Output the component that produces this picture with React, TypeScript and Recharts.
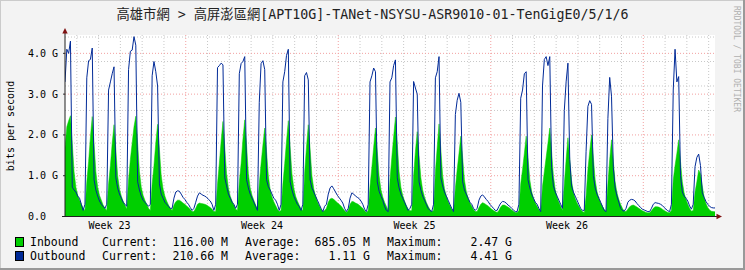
import React from 'react';
import { ComposedChart, Area, Line, XAxis, YAxis, CartesianGrid } from 'recharts';

// samples every 2 hours, values in Gbit/s, hour 0 = left edge of the graph
const STEP_HOURS = 2;

const inbound = [
  1.7, 2.2, 2.35, 2.47, 1.8, 1.1, 0.72, 0.52, 0.4, 0.3, 0.2, 0.15,
  0.85, 1.35, 1.95, 2.45, 1.8, 1.1, 0.72, 0.52, 0.4, 0.28, 0.2, 0.15,
  0.8, 1.25, 1.8, 2.25, 1.65, 1.0, 0.68, 0.5, 0.38, 0.28, 0.18, 0.9,
  1.4, 1.8, 2.2, 2.46, 1.8, 1.1, 0.72, 0.52, 0.4, 0.3, 0.2, 0.15,
  0.8, 1.25, 1.8, 2.26, 1.65, 1.0, 0.68, 0.5, 0.38, 0.28, 0.2, 0.15,
  0.28, 0.36, 0.4, 0.4, 0.37, 0.33, 0.3, 0.26, 0.22, 0.17, 0.12, 0.12,
  0.2, 0.3, 0.33, 0.32, 0.31, 0.3, 0.28, 0.25, 0.22, 0.18, 0.12, 0.12,
  0.8, 1.3, 1.85, 2.33, 1.7, 1.05, 0.7, 0.5, 0.38, 0.28, 0.18, 0.15,
  0.85, 1.3, 1.9, 2.37, 1.75, 1.05, 0.7, 0.52, 0.4, 0.28, 0.18, 0.8,
  1.3, 1.75, 2.17, 1.6, 1.0, 0.66, 0.48, 0.36, 0.27, 0.18, 0.12, 0.15,
  0.8, 1.3, 1.85, 2.35, 1.7, 1.05, 0.7, 0.5, 0.38, 0.28, 0.18, 0.15,
  1.1, 1.7, 2.25, 1.65, 1.0, 0.68, 0.5, 0.37, 0.27, 0.18, 0.12, 0.15,
  0.2, 0.35, 0.43, 0.45, 0.42, 0.38, 0.34, 0.3, 0.26, 0.2, 0.14, 0.1,
  0.15, 0.3, 0.37, 0.36, 0.33, 0.31, 0.28, 0.24, 0.2, 0.14, 0.1, 0.15,
  0.75, 1.2, 1.7, 2.17, 1.6, 1.0, 0.66, 0.48, 0.35, 0.25, 0.15, 0.9,
  1.45, 1.95, 2.44, 1.8, 1.1, 0.72, 0.52, 0.38, 0.27, 0.18, 0.14, 0.15,
  1.0, 1.6, 2.08, 1.5, 0.95, 0.65, 0.48, 0.35, 0.25, 0.17, 0.12, 0.15,
  1.1, 1.7, 2.27, 1.65, 1.0, 0.68, 0.5, 0.37, 0.27, 0.18, 0.12, 0.7,
  1.15, 1.55, 1.97, 1.45, 0.9, 0.62, 0.45, 0.34, 0.25, 0.17, 0.12, 0.12,
  0.22, 0.3, 0.34, 0.32, 0.29, 0.26, 0.22, 0.18, 0.15, 0.12, 0.1, 0.15,
  0.24, 0.28, 0.28, 0.26, 0.23, 0.2, 0.16, 0.13, 0.1, 0.1, 0.15, 0.8,
  1.15, 1.55, 1.97, 1.45, 0.9, 0.62, 0.45, 0.34, 0.25, 0.17, 0.12, 0.75,
  1.1, 1.45, 1.8, 2.17, 1.6, 1.0, 0.66, 0.48, 0.35, 0.25, 0.15, 0.8,
  1.4, 1.93, 1.4, 0.88, 0.6, 0.44, 0.33, 0.25, 0.17, 0.12, 0.1, 0.5,
  1.15, 1.6, 2.0, 1.45, 0.9, 0.62, 0.45, 0.34, 0.25, 0.17, 0.12, 0.8,
  1.4, 1.88, 1.35, 0.85, 0.58, 0.42, 0.3, 0.2, 0.13, 0.12, 0.18, 0.24,
  0.27, 0.28, 0.26, 0.23, 0.2, 0.17, 0.14, 0.12, 0.1, 0.09, 0.09, 0.14,
  0.2, 0.24, 0.24, 0.23, 0.21, 0.18, 0.15, 0.12, 0.1, 0.09, 0.15, 0.9,
  1.25, 1.55, 1.88, 1.35, 0.85, 0.58, 0.42, 0.3, 0.2, 0.13, 0.15, 0.6,
  0.85, 1.14, 1.05, 0.75, 0.48, 0.32, 0.22, 0.16, 0.13, 0.12, 0.116,
];

const outbound = [
  3.3, 4.1, 4.0, 4.3, 0.72, 0.65, 0.6, 0.5, 0.45, 0.3, 0.15, 0.3,
  3.4, 3.82, 3.85, 4.13, 0.9, 0.65, 0.5, 0.38, 0.3, 0.25, 0.2, 0.3,
  3.1, 3.3, 3.5, 3.67, 0.95, 0.7, 0.55, 0.45, 0.35, 0.3, 0.25, 3.6,
  4.05, 4.08, 4.41, 4.2, 0.85, 0.65, 0.5, 0.4, 0.35, 0.3, 0.25, 0.3,
  3.45, 3.8, 3.55, 3.2, 0.8, 0.55, 0.45, 0.35, 0.3, 0.25, 0.2, 0.2,
  0.45, 0.6, 0.63, 0.62, 0.55, 0.47, 0.42, 0.35, 0.3, 0.22, 0.15, 0.2,
  0.35, 0.5, 0.58, 0.55, 0.52, 0.5, 0.47, 0.42, 0.38, 0.3, 0.15, 0.3,
  3.65, 3.7, 3.76, 3.72, 0.95, 0.75, 0.55, 0.45, 0.35, 0.3, 0.2, 0.3,
  3.5, 3.75, 3.8, 3.92, 0.9, 0.7, 0.55, 0.45, 0.35, 0.25, 0.15, 2.8,
  3.75, 3.82, 3.6, 0.9, 0.73, 0.65, 0.55, 0.45, 0.4, 0.3, 0.15, 0.3,
  3.3, 3.55, 3.95, 4.1, 0.85, 0.65, 0.5, 0.4, 0.3, 0.25, 0.15, 0.3,
  3.45, 3.53, 3.35, 0.9, 0.7, 0.6, 0.5, 0.4, 0.3, 0.2, 0.12, 0.25,
  0.3, 0.55, 0.7, 0.75, 0.68, 0.6, 0.52, 0.46, 0.4, 0.33, 0.2, 0.12,
  0.2, 0.45, 0.58, 0.55, 0.5, 0.47, 0.44, 0.38, 0.3, 0.18, 0.12, 0.3,
  3.3, 3.45, 3.64, 3.55, 0.85, 0.62, 0.5, 0.4, 0.25, 0.15, 0.12, 3.3,
  3.4, 3.7, 3.84, 0.95, 0.7, 0.55, 0.45, 0.35, 0.25, 0.15, 0.2, 0.3,
  3.31, 3.15, 3.0, 0.85, 0.65, 0.5, 0.4, 0.3, 0.2, 0.15, 0.12, 0.3,
  3.4, 3.55, 3.92, 0.95, 0.75, 0.6, 0.5, 0.4, 0.3, 0.2, 0.12, 2.5,
  2.85, 3.02, 2.8, 0.85, 0.65, 0.55, 0.45, 0.35, 0.3, 0.2, 0.15, 0.2,
  0.4, 0.5, 0.53, 0.48, 0.42, 0.37, 0.3, 0.25, 0.2, 0.15, 0.15, 0.25,
  0.33, 0.37, 0.36, 0.33, 0.28, 0.25, 0.2, 0.16, 0.12, 0.12, 0.3, 2.9,
  3.1, 3.5, 3.55, 0.9, 0.7, 0.55, 0.45, 0.35, 0.3, 0.2, 0.12, 3.2,
  3.85, 3.92, 3.7, 3.92, 1.2, 0.75, 0.6, 0.5, 0.4, 0.3, 0.2, 2.6,
  3.3, 3.76, 1.4, 0.75, 0.6, 0.5, 0.4, 0.3, 0.2, 0.15, 0.15, 1.6,
  2.7, 2.84, 2.75, 1.0, 0.7, 0.55, 0.45, 0.35, 0.25, 0.15, 0.12, 2.4,
  3.41, 2.95, 1.2, 0.7, 0.5, 0.35, 0.2, 0.15, 0.13, 0.2, 0.35, 0.4,
  0.42, 0.41, 0.38, 0.32, 0.27, 0.22, 0.18, 0.16, 0.14, 0.12, 0.12, 0.2,
  0.3, 0.34, 0.33, 0.32, 0.3, 0.27, 0.22, 0.18, 0.14, 0.12, 0.3, 3.1,
  4.1, 3.3, 3.43, 1.0, 0.6, 0.5, 0.45, 0.38, 0.26, 0.18, 0.3, 1.22,
  1.45, 1.53, 1.25, 0.58, 0.47, 0.37, 0.3, 0.25, 0.22, 0.21, 0.21,
];

// x axis (hours)
const weekTicks = [49, 217, 385, 553];
const weekLabels = ['Week 23', 'Week 24', 'Week 25', 'Week 26'];
const weekStarts = [133, 301, 469, 637];
const dayLines = [13, 37, 61, 85, 109, 157, 181, 205, 229, 253, 277, 325, 349, 373, 397, 421, 445,
  493, 517, 541, 565, 589, 613, 661, 685, 709];

// y axis (Gbit/s)
const yTicks = [0, 1, 2, 3, 4];
const yMajor = [1, 2, 3, 4];
const yMinor = [0.2, 0.4, 0.6, 0.8, 1.2, 1.4, 1.6, 1.8, 2.2, 2.4, 2.6, 2.8, 3.2, 3.4, 3.6, 3.8, 4.2, 4.4];

const legendRows = [
  { name: 'Inbound', color: '#00CF00', current: '116.00 M', average: '685.05 M', maximum: '2.47 G' },
  { name: 'Outbound', color: '#002A97', current: '210.66 M', average: '1.11 G', maximum: '4.41 G' },
];

const TITLE = '高雄市網 > 高屏澎區網[APT10G]-TANet-NSYSU-ASR9010-01-TenGigE0/5/1/6';
const MONO = "'DejaVu Sans Mono', 'Noto Sans CJK TC', monospace";

const data = outbound.map((v, i) => ({ h: i * STEP_HOURS, inbound: inbound[i], outbound: v }));

function YTick(props: any) {
  const { y, payload } = props;
  const v = payload.value as number;
  return (
    <text x={28} y={y} dy={3.5} fontFamily={MONO} fontSize={10} fill="#000">
      {v === 0 ? '0.0' : `${v.toFixed(1)} G`}
    </text>
  );
}

export default function App() {
  return (
    <div style={{ position: 'relative', width: 745, height: 270, background: '#F3F3F3' }}>
      <style>{'body{margin:0}'}</style>
      <ComposedChart
        width={745}
        height={270}
        data={data}
        margin={{ top: 35, right: 30, bottom: 33.5, left: 25 }}
      >
        <CartesianGrid
          fill="#FFFFFF"
          stroke="#C8C8C8"
          strokeDasharray="1 2"
          horizontalValues={yMinor}
          verticalValues={dayLines}
        />
        <CartesianGrid
          stroke="#F2A0A0"
          strokeDasharray="1 2"
          horizontalValues={yMajor}
          verticalValues={weekStarts}
        />
        <XAxis
          type="number"
          dataKey="h"
          domain={[0, 716]}
          ticks={weekTicks}
          tickFormatter={(v: number) => weekLabels[weekTicks.indexOf(v)]}
          tickLine={false}
          axisLine={false}
          tickSize={0}
          tickMargin={5}
          height={20}
          tick={{ fontFamily: MONO, fontSize: 10, fill: '#000' }}
          allowDataOverflow
        />
        <YAxis
          type="number"
          domain={[0, 4.45]}
          ticks={yTicks}
          width={40}
          axisLine={false}
          tickLine={{ stroke: '#333' }}
          tickSize={2}
          tick={<YTick />}
          allowDataOverflow
        />
        <Area
          type="linear"
          dataKey="inbound"
          fill="#00CF00"
          fillOpacity={1}
          stroke="#00CF00"
          strokeWidth={0.5}
          isAnimationActive={false}
          dot={false}
          activeDot={false}
        />
        <Line
          type="linear"
          dataKey="outbound"
          stroke="#002A97"
          strokeWidth={1}
          dot={false}
          activeDot={false}
          isAnimationActive={false}
        />
      </ComposedChart>

      <svg
        width={745}
        height={270}
        style={{ position: 'absolute', left: 0, top: 0, pointerEvents: 'none' }}
      >
        {/* frame */}
        <line x1={0} y1={0.5} x2={745} y2={0.5} stroke="#CBCBCB" />
        <line x1={0.5} y1={0} x2={0.5} y2={270} stroke="#CBCBCB" />
        <line x1={0} y1={269} x2={745} y2={269} stroke="#999999" strokeWidth={2} />
        <line x1={744} y1={0} x2={744} y2={270} stroke="#999999" strokeWidth={2} />

        <text x={372.5} y={19} textAnchor="middle" fontFamily={MONO} fontSize={13.3} fill="#222">
          {TITLE}
        </text>
        <text
          transform="translate(14,126) rotate(-90)"
          textAnchor="middle"
          fontFamily={MONO}
          fontSize={10}
          fill="#000"
        >
          bits per second
        </text>
        <text
          transform="translate(734,59) rotate(90)"
          textAnchor="middle"
          fontFamily={MONO}
          fontSize={8}
          fill="#B0B0B0"
        >
          RRDTOOL / TOBI OETIKER
        </text>

        {/* axes */}
        <line x1={65} y1={217} x2={65} y2={32} stroke="#202020" />
        <line x1={62} y1={216.5} x2={717} y2={216.5} stroke="#202020" />
        <polygon points="65,28 62.3,33.5 67.7,33.5" fill="#7F1010" />
        <polygon points="722,216.5 716.5,213.8 716.5,219.2" fill="#7F1010" />

        {legendRows.map((r, i) => {
          const base = 246 + i * 14;
          return (
            <g key={r.name} fontFamily={MONO} fontSize={11.5} fill="#000">
              <rect x={15.5} y={base - 8.5} width={8} height={9} fill={r.color} stroke="#000" />
              <text x={30} y={base}>{r.name}</text>
              <text x={102} y={base}>Current:</text>
              <text x={228} y={base} textAnchor="end">{r.current}</text>
              <text x={245} y={base}>Average:</text>
              <text x={370} y={base} textAnchor="end">{r.average}</text>
              <text x={387} y={base}>Maximum:</text>
              <text x={512} y={base} textAnchor="end">{r.maximum}</text>
            </g>
          );
        })}
      </svg>
    </div>
  );
}
